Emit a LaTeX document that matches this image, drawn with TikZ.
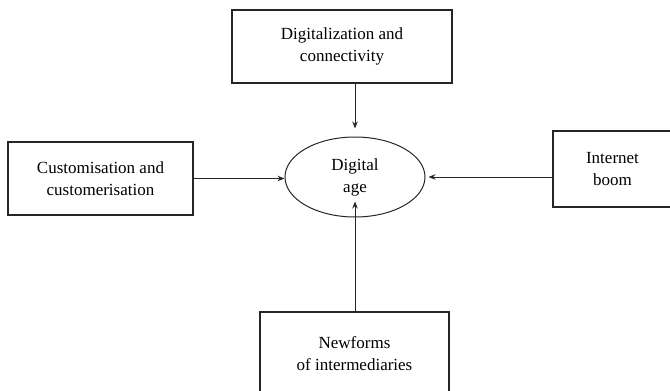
\documentclass[tikz,border=0pt]{standalone}
\usepackage{fontspec}
\setmainfont{Liberation Serif}
\usetikzlibrary{shapes.geometric,arrows.meta}
\begin{document}
\begin{tikzpicture}[x=1pt,y=-1pt,
  box/.style={draw=black!85,line width=1.3pt,rectangle,inner sep=0pt,align=center,font=\fontsize{17}{22}\selectfont},
  oval/.style={draw=black!85,line width=1pt,ellipse,inner sep=0pt,minimum width=140pt,minimum height=80pt,align=center,font=\fontsize{17}{22}\selectfont},
  conn/.style={draw=black!85,line width=0.9pt,-{Stealth[length=7pt,width=5.5pt]}}]
\useasboundingbox (0,0) rectangle (670,391);
\clip (0,0) rectangle (670,391);
\node[box,minimum width=220pt,minimum height=73pt] (top) at (342,46.5) {Digitalization and\\connectivity};
\node[box,minimum width=185pt,minimum height=73pt] (left) at (100.5,178.5) {Customisation and\\customerisation};
\node[box,minimum width=119pt,minimum height=76pt] (right) at (612.5,169) {Internet\\boom};
\node[box,minimum width=189pt,minimum height=83pt] (bottom) at (354.5,353.5) {Newforms\\of intermediaries};
\node[oval] (age) at (355,177) {Digital\\age};
\draw[conn] (top.south -| age.north) -- ([yshift=8pt]age.north);
\draw[conn] (left.east) -- (left.east -| age.west);
\draw[conn] (right.west |- age.east) -- ([xshift=3pt]age.east);
\draw[conn] (bottom.north -| age.south) -- ([yshift=16pt]age.south);
\end{tikzpicture}
\end{document}
